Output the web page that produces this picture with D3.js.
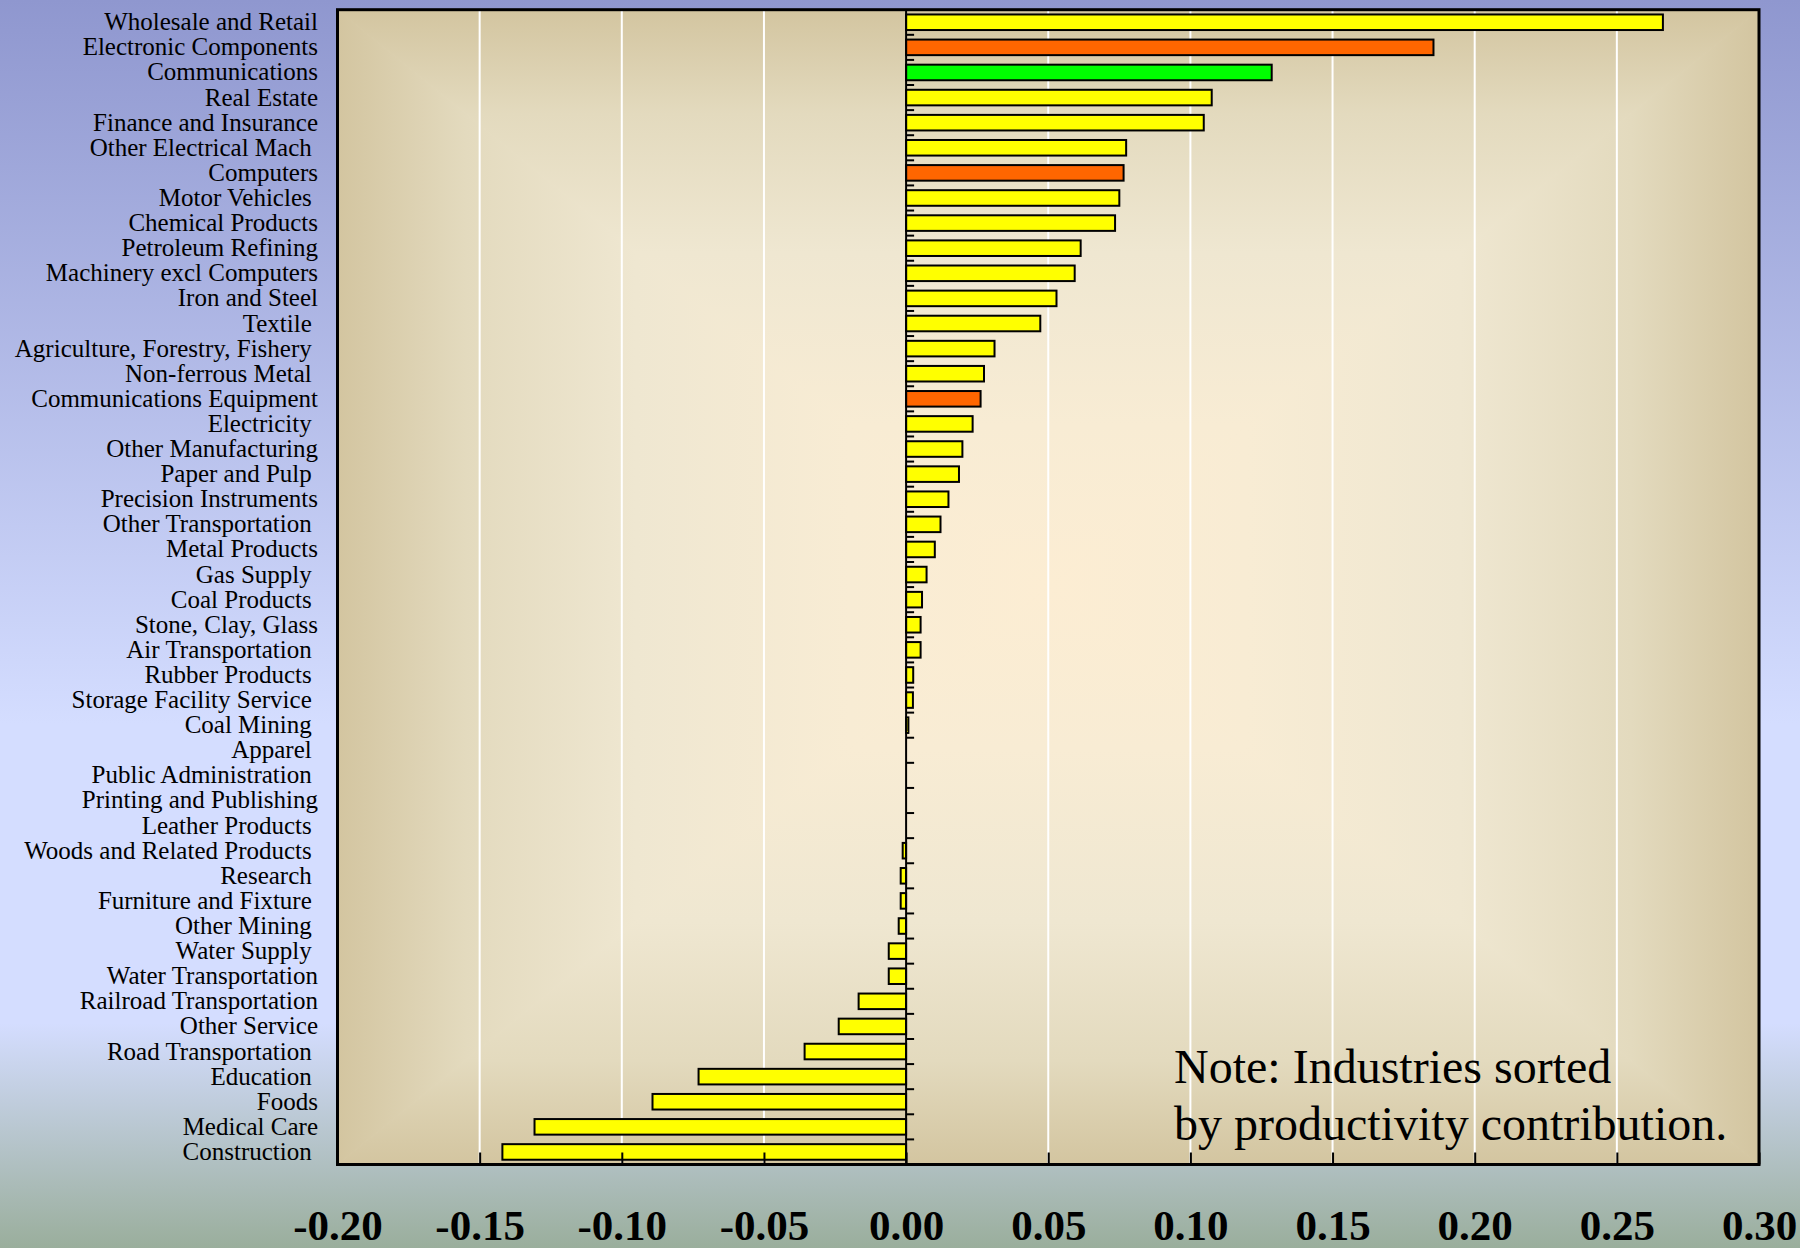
<!DOCTYPE html>
<html>
<head>
<meta charset="utf-8">
<script src="https://cdn.jsdelivr.net/npm/d3@7"></script>
<style>
  html, body { margin: 0; padding: 0; background: #fff; }
  svg { display: block; }
  text { white-space: pre; }
</style>
</head>
<body>
<svg id="chart" width="1800" height="1248"></svg>
<script>
// ---------- DATA ----------
const categories = [
  "Wholesale and Retail", "Electronic Components", "Communications", "Real Estate",
  "Finance and Insurance", "Other Electrical Mach ", "Computers", "Motor Vehicles ",
  "Chemical Products", "Petroleum Refining", "Machinery excl Computers", "Iron and Steel",
  "Textile ", "Agriculture, Forestry, Fishery ", "Non-ferrous Metal ", "Communications Equipment",
  "Electricity ", "Other Manufacturing", "Paper and Pulp ", "Precision Instruments",
  "Other Transportation ", "Metal Products", "Gas Supply ", "Coal Products ",
  "Stone, Clay, Glass", "Air Transportation ", "Rubber Products ", "Storage Facility Service ",
  "Coal Mining ", "Apparel ", "Public Administration ", "Printing and Publishing",
  "Leather Products ", "Woods and Related Products ", "Research ", "Furniture and Fixture ",
  "Other Mining ", "Water Supply ", "Water Transportation", "Railroad Transportation",
  "Other Service", "Road Transportation ", "Education ", "Foods",
  "Medical Care", "Construction "
];
const values = [
  0.2662, 0.1855, 0.1286, 0.1075,
  0.1047, 0.0774, 0.0765, 0.0750,
  0.0735, 0.0614, 0.0593, 0.0529,
  0.0472, 0.0311, 0.0274, 0.0262,
  0.0234, 0.0198, 0.0186, 0.0149,
  0.0121, 0.0101, 0.0072, 0.0056,
  0.0051, 0.0051, 0.0025, 0.0024,
  0.0008, 0, 0, 0,
  0, -0.0012, -0.0019, -0.0019,
  -0.0026, -0.0061, -0.0061, -0.0167,
  -0.0237, -0.0357, -0.0730, -0.0892,
  -0.1307, -0.1420
];
// highlight group of each industry
const groups = [
  "other", "ict", "comm", "other",
  "other", "other", "ict", "other",
  "other", "other", "other", "other",
  "other", "other", "other", "ict",
  "other", "other", "other", "other",
  "other", "other", "other", "other",
  "other", "other", "other", "other",
  "other", "other", "other", "other",
  "other", "other", "other", "other",
  "other", "other", "other", "other",
  "other", "other", "other", "other",
  "other", "other"
];
const groupNames = ["other", "ict", "comm"];
const groupColors = ["#FFFF00", "#FF6600", "#00FF00"];
const xTickValues = [-0.20, -0.15, -0.10, -0.05, 0.00, 0.05, 0.10, 0.15, 0.20, 0.25, 0.30];
const xTickLabels = ["-0.20", "-0.15", "-0.10", "-0.05", "0.00", "0.05", "0.10", "0.15", "0.20", "0.25", "0.30"];
const noteLines = ["Note: Industries sorted", "by productivity contribution."];

// ---------- LAYOUT ----------
const W = 1800, H = 1248;
const plot = { left: 337.5, right: 1759, top: 9.7, bottom: 1164.5 };
const serif = "'Liberation Serif', 'Times New Roman', Times, serif";

const svg = d3.select("#chart");
const defs = svg.append("defs");

// page background gradient
const pg = defs.append("linearGradient").attr("id", "pageBg")
  .attr("x1", 0).attr("y1", 0).attr("x2", 0).attr("y2", 1);
[[0, "rgb(143,151,207)"], [0.58, "rgb(212,221,255)"], [0.82, "rgb(212,221,255)"], [1, "rgb(154,174,156)"]]
  .forEach(([o, c]) => pg.append("stop").attr("offset", o).attr("stop-color", c));

svg.append("rect").attr("width", W).attr("height", H).attr("fill", "url(#pageBg)");

// plot background: rectangular "from centre" gradient built from 4 triangles
const cx = (plot.left + plot.right) / 2, cy = (plot.top + plot.bottom) / 2;
const bgStops = [[0, "rgb(211,197,160)"], [0.18, "rgb(227,218,190)"], [0.42, "rgb(239,231,209)"],
                 [0.72, "rgb(248,236,212)"], [1, "rgb(252,237,211)"]];
const tris = [
  { id: "gT", x1: cx, y1: plot.top, x2: cx, y2: cy,
    pts: [[plot.left, plot.top], [plot.right, plot.top], [cx, cy]] },
  { id: "gB", x1: cx, y1: plot.bottom, x2: cx, y2: cy,
    pts: [[plot.left, plot.bottom], [plot.right, plot.bottom], [cx, cy]] },
  { id: "gL", x1: plot.left, y1: cy, x2: cx, y2: cy,
    pts: [[plot.left, plot.top], [plot.left, plot.bottom], [cx, cy]] },
  { id: "gR", x1: plot.right, y1: cy, x2: cx, y2: cy,
    pts: [[plot.right, plot.top], [plot.right, plot.bottom], [cx, cy]] }
];
tris.forEach(t => {
  const lg = defs.append("linearGradient").attr("id", t.id).attr("gradientUnits", "userSpaceOnUse")
    .attr("x1", t.x1).attr("y1", t.y1).attr("x2", t.x2).attr("y2", t.y2);
  bgStops.forEach(([o, c]) => lg.append("stop").attr("offset", o).attr("stop-color", c));
});
svg.append("rect").attr("x", plot.left).attr("y", plot.top)
  .attr("width", plot.right - plot.left).attr("height", plot.bottom - plot.top)
  .attr("fill", "rgb(240,232,208)");
svg.append("g").selectAll("polygon").data(tris).join("polygon")
  .attr("points", d => d.pts.map(p => p.join(",")).join(" "))
  .attr("fill", d => `url(#${d.id})`)
  .attr("stroke", d => `url(#${d.id})`).attr("stroke-width", 1);

// ---------- SCALES ----------
const x = d3.scaleLinear().domain([-0.2, 0.3]).range([plot.left, plot.right]);
const y = d3.scaleBand().domain(categories).range([plot.top, plot.bottom])
  .paddingInner(0.38).paddingOuter(0.19);
const color = d3.scaleOrdinal().domain(groupNames).range(groupColors);

// gridlines
svg.append("g").selectAll("line")
  .data(xTickValues.filter(v => v !== 0 && v > -0.2 && v < 0.3)).join("line")
  .attr("x1", d => x(d)).attr("x2", d => x(d))
  .attr("y1", plot.top).attr("y2", plot.bottom)
  .attr("stroke", "#FFFFFF").attr("stroke-width", 2);

// bars
const data = categories.map((c, i) => ({ c, v: values[i], g: groups[i] }));
svg.append("g").selectAll("rect")
  .data(data.filter(d => d.v !== 0)).join("rect")
  .attr("x", d => x(Math.min(0, d.v)))
  .attr("width", d => Math.abs(x(d.v) - x(0)))
  .attr("y", d => y(d.c))
  .attr("height", y.bandwidth())
  .attr("fill", d => color(d.g))
  .attr("stroke", "#000").attr("stroke-width", 2);

// zero line
svg.append("line")
  .attr("x1", x(0)).attr("x2", x(0)).attr("y1", plot.top).attr("y2", plot.bottom)
  .attr("stroke", "#000").attr("stroke-width", 2);

// category ticks on the zero line (band boundaries)
const gapHalf = (y.step() - y.bandwidth()) / 2;
svg.append("g").selectAll("line")
  .data(categories.slice(1)).join("line")
  .attr("x1", x(0)).attr("x2", x(0) + 8)
  .attr("y1", d => y(d) - gapHalf).attr("y2", d => y(d) - gapHalf)
  .attr("stroke", "#000").attr("stroke-width", 2);

// x axis: inward ticks at bottom, labels far below
const axis = svg.append("g").attr("transform", `translate(0,${plot.bottom})`)
  .call(d3.axisBottom(x).tickValues(xTickValues).tickSizeInner(-12).tickSizeOuter(0)
    .tickFormat((d, i) => xTickLabels[i]));
axis.select(".domain").remove();
axis.selectAll(".tick line").attr("stroke", "#000").attr("stroke-width", 2);
axis.selectAll(".tick text")
  .attr("y", 1240 - plot.bottom).attr("dy", null)
  .attr("fill", "#000")
  .attr("font-family", serif).attr("font-size", 43).attr("font-weight", "bold");

// frame
svg.append("rect").attr("x", plot.left).attr("y", plot.top)
  .attr("width", plot.right - plot.left).attr("height", plot.bottom - plot.top)
  .attr("fill", "none").attr("stroke", "#000").attr("stroke-width", 3);

// category labels
svg.append("g").selectAll("text")
  .data(categories).join("text")
  .attr("x", 318)
  .attr("y", d => y(d) + y.bandwidth() / 2 + 8)
  .attr("text-anchor", "end")
  .attr("font-family", serif).attr("font-size", 25).attr("fill", "#000")
  .attr("xml:space", "preserve")
  .text(d => d);

// note
svg.append("g").selectAll("text")
  .data(noteLines).join("text")
  .attr("x", 1174)
  .attr("y", (d, i) => 1083 + i * 57)
  .attr("font-family", serif).attr("font-size", 48).attr("fill", "#000")
  .text(d => d);
</script>
</body>
</html>
